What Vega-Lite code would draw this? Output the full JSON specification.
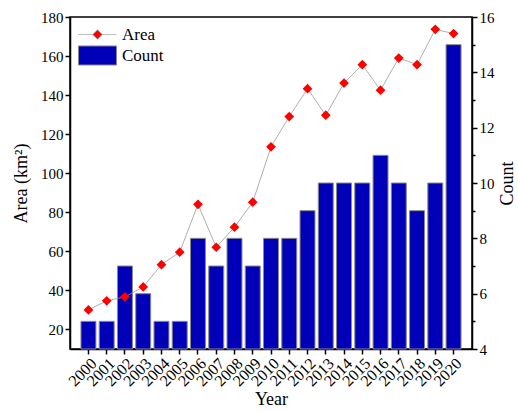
{
  "$schema": "https://vega.github.io/schema/vega-lite/v6.json",
  "width": 402,
  "height": 332,
  "autosize": "none",
  "padding": {"left": 70, "top": 17, "right": 46, "bottom": 62},
  "background": "white",
  "config": {
    "view": {"stroke": "black", "strokeWidth": 1.5},
    "font": "Liberation Serif",
    "axis": {
      "grid": false,
      "domainColor": "black",
      "domainWidth": 1.5,
      "tickColor": "black",
      "tickWidth": 1.5,
      "tickSize": 5,
      "labelFont": "Liberation Serif",
      "labelFontSize": 15,
      "labelColor": "black",
      "titleFont": "Liberation Serif",
      "titleFontSize": 18,
      "titleFontWeight": "normal",
      "titleColor": "black"
    },
    "legend": {
      "labelFont": "Liberation Serif",
      "labelFontSize": 17,
      "labelColor": "black"
    }
  },
  "data": {
    "values": [
      {"year": "2000", "area": 30.0, "count": 5},
      {"year": "2001", "area": 34.7, "count": 5},
      {"year": "2002", "area": 36.7, "count": 7},
      {"year": "2003", "area": 41.8, "count": 6},
      {"year": "2004", "area": 53.2, "count": 5},
      {"year": "2005", "area": 59.6, "count": 5},
      {"year": "2006", "area": 84.1, "count": 8},
      {"year": "2007", "area": 62.1, "count": 7},
      {"year": "2008", "area": 72.4, "count": 8},
      {"year": "2009", "area": 85.2, "count": 7},
      {"year": "2010", "area": 113.5, "count": 8},
      {"year": "2011", "area": 129.0, "count": 8},
      {"year": "2012", "area": 143.3, "count": 9},
      {"year": "2013", "area": 129.7, "count": 10},
      {"year": "2014", "area": 146.2, "count": 10},
      {"year": "2015", "area": 155.6, "count": 10},
      {"year": "2016", "area": 142.5, "count": 11},
      {"year": "2017", "area": 159.0, "count": 10},
      {"year": "2018", "area": 155.6, "count": 9},
      {"year": "2019", "area": 173.7, "count": 10},
      {"year": "2020", "area": 171.5, "count": 15}
    ]
  },
  "encoding": {
    "x": {
      "field": "year",
      "type": "ordinal",
      "scale": {"paddingInner": 0.18, "paddingOuter": 0.6},
      "axis": {"title": "Year", "labelAngle": -45, "labelFontSize": 16, "labelPadding": 1, "titlePadding": 2}
    }
  },
  "layer": [
    {
      "mark": {"type": "bar", "stroke": "#8a8a8a", "strokeWidth": 1},
      "encoding": {
        "y": {
          "field": "count",
          "type": "quantitative",
          "scale": {"domain": [4, 16], "zero": false, "nice": false},
          "axis": {
            "orient": "right",
            "title": "Count",
            "titleAngle": 270,
            "titlePadding": 22,
            "values": [4, 5, 6, 7, 8, 9, 10, 11, 12, 13, 14, 15, 16],
            "labelExpr": "datum.value % 2 === 0 ? datum.label : ''",
            "tickSize": {"condition": {"test": "datum.value % 2 === 0", "value": 5}, "value": 3}
          }
        },
        "y2": {"datum": 4},
        "fill": {
          "datum": "Count",
          "scale": {"range": ["#0000B8"]},
          "legend": {
            "title": null,
            "orient": "none",
            "legendX": 14,
            "legendY": 25,
            "padding": 0,
            "symbolType": "M-1.5,-0.75H1.5V0.75H-1.5Z",
            "symbolSize": 645,
            "symbolStrokeColor": "#8a8a8a",
            "symbolStrokeWidth": 1,
            "labelOffset": 11
          }
        }
      }
    },
    {
      "layer": [
        {
          "mark": {"type": "line", "color": "#9a9a9a", "strokeWidth": 0.8},
          "encoding": {
            "y": {
              "field": "area",
              "type": "quantitative",
              "scale": {"domain": [10, 180], "zero": false, "nice": false},
              "axis": {
                "orient": "left",
                "title": "Area (km²)",
                "titlePadding": 10,
                "values": [20, 30, 40, 50, 60, 70, 80, 90, 100, 110, 120, 130, 140, 150, 160, 170, 180],
                "labelExpr": "datum.value % 20 === 0 ? datum.label : ''",
                "tickSize": {"condition": {"test": "datum.value % 20 === 0", "value": 5}, "value": 3}
              }
            }
          }
        },
        {
          "mark": {"type": "point", "shape": "diamond", "filled": true, "size": 95, "opacity": 1},
          "encoding": {
            "y": {"field": "area", "type": "quantitative"},
            "color": {
              "datum": "Area",
              "scale": {"range": ["#FF0000"]},
              "legend": {
                "title": null,
                "orient": "none",
                "legendX": 14,
                "legendY": 4,
                "padding": 0,
                "symbolType": "M-1.5,0H-0.38M0.38,0H1.5M0,-0.38L0.38,0L0,0.38L-0.38,0Z",
                "symbolSize": 645,
                "symbolStrokeColor": "#b0b0b0",
                "symbolStrokeWidth": 0.8,
                "labelOffset": 11
              }
            }
          }
        }
      ]
    }
  ],
  "resolve": {"scale": {"y": "independent"}}
}
